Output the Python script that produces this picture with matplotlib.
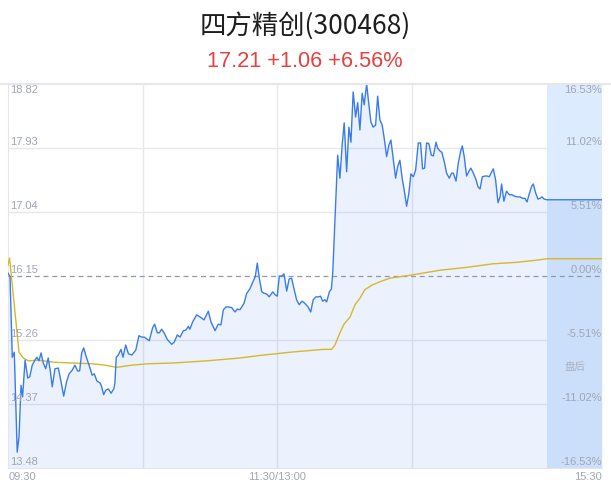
import matplotlib.pyplot as plt
from matplotlib.lines import Line2D

prev_close = 16.15
price_ticks = [18.82, 17.93, 17.04, 16.15, 15.26, 14.37, 13.48]
time_labels = ["09:30", "11:30/13:00", "15:30"]

# minutes since 09:30 (lunch break removed), last price
price_min = [0, 0.9, 1.9, 2.8, 4.1, 4.9, 5.8, 6.5, 7.6, 8.8,
             9.7, 10.8, 12.0, 12.9, 13.8, 14.7, 15.7, 16.8, 17.9, 18.8,
             19.7, 20.9, 22.4, 23.2, 24.8, 26.1, 27.2, 28.6, 29.8, 31.0,
             31.9, 32.8, 33.7, 34.9, 36.1, 37.5, 38.4, 39.6, 41.1, 41.7,
             42.6, 43.5, 44.7, 45.9, 47.1, 47.6, 48.2, 49.1, 50.3, 51.2,
             52.4, 53.6, 55.1, 56.9, 58.3, 59.5, 60.7, 62.9, 64.4, 65.3,
             66.5, 67.4, 68.4, 69.5, 70.9, 72.9, 74.0, 75.4, 76.6, 78.1,
             79.3, 80.3, 81.0, 82.2, 84.0, 85.5, 87.3, 89.2, 90.4, 92.2,
             93.6, 94.8, 95.9, 97.1, 98.3, 99.6, 101.1, 102.1, 103.3, 105.1,
             106.3, 107.7, 109.2, 110.1, 111.0, 111.9, 113.0, 114.0, 115.2, 116.3,
             117.9, 118.9, 119.9, 120.8, 121.9, 122.9, 124.1, 125.2, 126.3, 127.3,
             128.5, 129.7, 130.9, 132.2, 133.6, 134.8, 135.9, 137.1, 138.3, 139.2,
             140.1, 141.1, 141.9, 143.1, 144.0, 144.6, 145.6, 146.8, 147.8, 148.8,
             149.7, 150.8, 151.8, 152.7, 153.7, 154.8, 155.7, 156.7, 157.7, 158.6,
             159.7, 160.7, 161.6, 162.6, 163.7, 164.6, 165.6, 166.6, 167.5, 168.6,
             169.6, 170.5, 171.5, 172.6, 173.5, 174.5, 175.6, 176.4, 177.5, 178.5,
             179.4, 180.5, 181.5, 182.7, 183.7, 184.6, 185.5, 186.4, 187.4, 188.5,
             189.4, 190.6, 191.3, 192.3, 193.2, 194.4, 195.3, 196.5, 197.5, 198.3,
             199.5, 200.5, 201.6, 202.3, 203.2, 204.2, 205.3, 206.1, 207.2, 208.4,
             209.3, 210.2, 211.2, 212.4, 213.4, 214.3, 215.4, 216.1, 217.1, 218.2,
             219.1, 219.8, 220.8, 222.0, 223.2, 224.4, 225.6, 226.8, 228.0, 229.2,
             230.2, 231.1, 232.0, 233.2, 233.9, 235.0, 236.0, 236.9, 237.8, 238.7,
             240.0]
price = [16.19, 16.14, 15.02, 15.09, 13.70, 13.91, 14.63, 14.47, 14.98, 14.73,
         14.75, 14.91, 14.98, 15.02, 14.97, 15.08, 14.94, 14.86, 15.01, 14.84,
         14.61, 14.86, 14.87, 14.75, 14.48, 14.68, 14.79, 14.84, 14.91, 14.83,
         14.83, 15.08, 15.15, 15.02, 14.91, 14.77, 14.79, 14.69, 14.66, 14.61,
         14.50, 14.56, 14.58, 14.52, 14.58, 14.66, 15.02, 15.05, 15.13, 15.02,
         15.19, 15.07, 15.05, 15.12, 15.32, 15.30, 15.30, 15.25, 15.43, 15.48,
         15.36, 15.36, 15.41, 15.36, 15.27, 15.20, 15.23, 15.33, 15.30, 15.39,
         15.40, 15.45, 15.41, 15.51, 15.61, 15.58, 15.54, 15.66, 15.51, 15.39,
         15.48, 15.47, 15.68, 15.72, 15.72, 15.71, 15.65, 15.69, 15.68, 15.77,
         15.91, 15.97, 16.08, 16.14, 16.33, 16.12, 15.93, 15.91, 15.90, 15.86,
         15.93, 15.89, 15.87, 16.15, 16.15, 16.18, 15.94, 16.11, 16.12, 15.98,
         15.82, 15.75, 15.80, 15.77, 15.72, 15.65, 15.82, 15.86, 15.86, 15.87,
         15.80, 15.82, 15.79, 15.93, 15.97, 16.19, 16.93, 17.83, 17.51, 17.97,
         18.28, 17.60, 18.22, 18.01, 18.71, 18.36, 18.56, 18.18, 18.69, 18.53,
         18.82, 18.53, 18.29, 18.22, 18.25, 18.65, 18.32, 18.25, 18.07, 17.81,
         17.97, 18.04, 17.79, 17.51, 17.67, 17.76, 17.49, 17.35, 17.12, 17.30,
         17.57, 17.53, 17.62, 18.00, 18.00, 17.64, 17.65, 18.00, 17.99, 17.83,
         17.82, 18.01, 17.93, 17.89, 17.87, 17.72, 17.58, 17.51, 17.58, 17.58,
         17.47, 17.72, 17.89, 17.96, 17.80, 17.54, 17.61, 17.65, 17.58, 17.49,
         17.39, 17.36, 17.53, 17.54, 17.54, 17.53, 17.60, 17.64, 17.49, 17.17,
         17.25, 17.43, 17.19, 17.33, 17.28, 17.28, 17.26, 17.25, 17.25, 17.23,
         17.23, 17.18, 17.28, 17.40, 17.43, 17.30, 17.22, 17.23, 17.25, 17.22,
         17.21]

# average price line
avg_min = [0, 0.7, 4.9, 6.8, 9.0, 13.4, 20.9, 28.4, 37.3, 43.2,
           48.4, 55.1, 62.5, 73.5, 88.5, 103.3, 113.5, 119.8, 125.6, 133.0,
           140.4, 144.1, 145.6, 147.8, 149.6, 152.3, 154.5, 156.7, 158.9, 161.9,
           165.6, 170.1, 179.0, 192.3, 204.2, 216.1, 226.5, 235.4, 240.0]
avg_price = [16.30, 16.40, 15.09, 15.01, 14.97, 14.98, 14.95, 14.94, 14.93, 14.91,
             14.88, 14.91, 14.93, 14.94, 14.97, 15.01, 15.05, 15.07, 15.09, 15.11,
             15.13, 15.13, 15.19, 15.36, 15.48, 15.58, 15.75, 15.84, 15.96, 16.02,
             16.07, 16.12, 16.16, 16.23, 16.27, 16.32, 16.34, 16.37, 16.39]

session_end = 240
after_end = 264.5

W, H = 611, 492
num_font = "Liberation Sans"
cjk_font = ["Noto Sans CJK SC", "DejaVu Sans"]
label_color = "#a0a5b5"
grid_color = "#e6e8ef"

fig = plt.figure(figsize=(W / 100, H / 100), dpi=100)
ax = fig.add_axes([8 / W, 1 - 468 / H, 594 / W, 384 / H])
ax.set_xlim(0, after_end)
ax.set_ylim(price_ticks[-1], price_ticks[0])

for p in price_ticks[1:-1]:
    if p != prev_close:
        ax.axhline(p, color=grid_color, lw=1.0, zorder=0)
for m in (60, 120, 180):
    ax.axvline(m, color=grid_color, lw=1.0, zorder=0)
ax.axhline(prev_close, color="#9298ab", lw=0.9, ls=(0, (4, 3)), zorder=3)

# after-hours block
ax.axvspan(session_end, after_end, color="#dcebfd", lw=0, zorder=0)

px = price_min + [after_end]
py = price + [price[-1]]
ax.fill_between(px, py, price_ticks[-1], color="#3b7ded", alpha=0.1, lw=0, zorder=1)
ax.plot(px, py, color="#3a7cec", lw=1.0, zorder=4)
ax.plot(avg_min + [after_end], avg_price + [avg_price[-1]], color="#d6b82a", lw=1.0, zorder=3)

for side in ("top", "right"):
    ax.spines[side].set_visible(False)
for side in ("left", "bottom"):
    ax.spines[side].set_color("#e3e6ee")
ax.set_xticks([])
ax.set_yticks([])

tr = ax.get_yaxis_transform()
for i, p in enumerate(price_ticks):
    pct = (p - prev_close) / prev_close * 100
    if i == 0:
        y, va = p - 0.02, "top"
    else:
        y, va = p + 0.02, "bottom"
    ax.text(0.003, y, "%.2f" % p, transform=tr, ha="left", va=va,
            fontsize=8, color=label_color, family=num_font, zorder=5)
    ax.text(1.0, y, "%.2f%%" % pct, transform=tr, ha="right", va=va,
            fontsize=8, color=label_color, family=num_font, zorder=5)

fig.text(9 / W, 1 - 477 / H, time_labels[0], ha="left", va="center",
         fontsize=8, color=label_color, family=num_font)
fig.text(277.5 / W, 1 - 477 / H, time_labels[1], ha="center", va="center",
         fontsize=8, color=label_color, family=num_font)
fig.text(602 / W, 1 - 477 / H, time_labels[2], ha="right", va="center",
         fontsize=8, color=label_color, family=num_font)
fig.text(575 / W, 1 - 367 / H, "盘后", ha="center", va="center",
         fontsize=7.5, color="#aab0c0", family=cjk_font)

# top separator line
fig.add_artist(Line2D([0, 1], [1 - 83.5 / H] * 2, transform=fig.transFigure,
                      color="#e6e6eb", lw=1.5))

fig.text(305.5 / W, 1 - 26 / H, "四方精创(300468)", ha="center", va="center",
         fontsize=19, color="#1e1e1e", family=cjk_font)
chg = price[-1] - prev_close
fig.text(305 / W, 1 - 61.5 / H,
         "%.2f +%.2f +%.2f%%" % (price[-1], chg, chg / prev_close * 100),
         ha="center", va="center", fontsize=15.7, color="#e8403f", family=num_font)

fig.savefig("out.png", dpi=100)
